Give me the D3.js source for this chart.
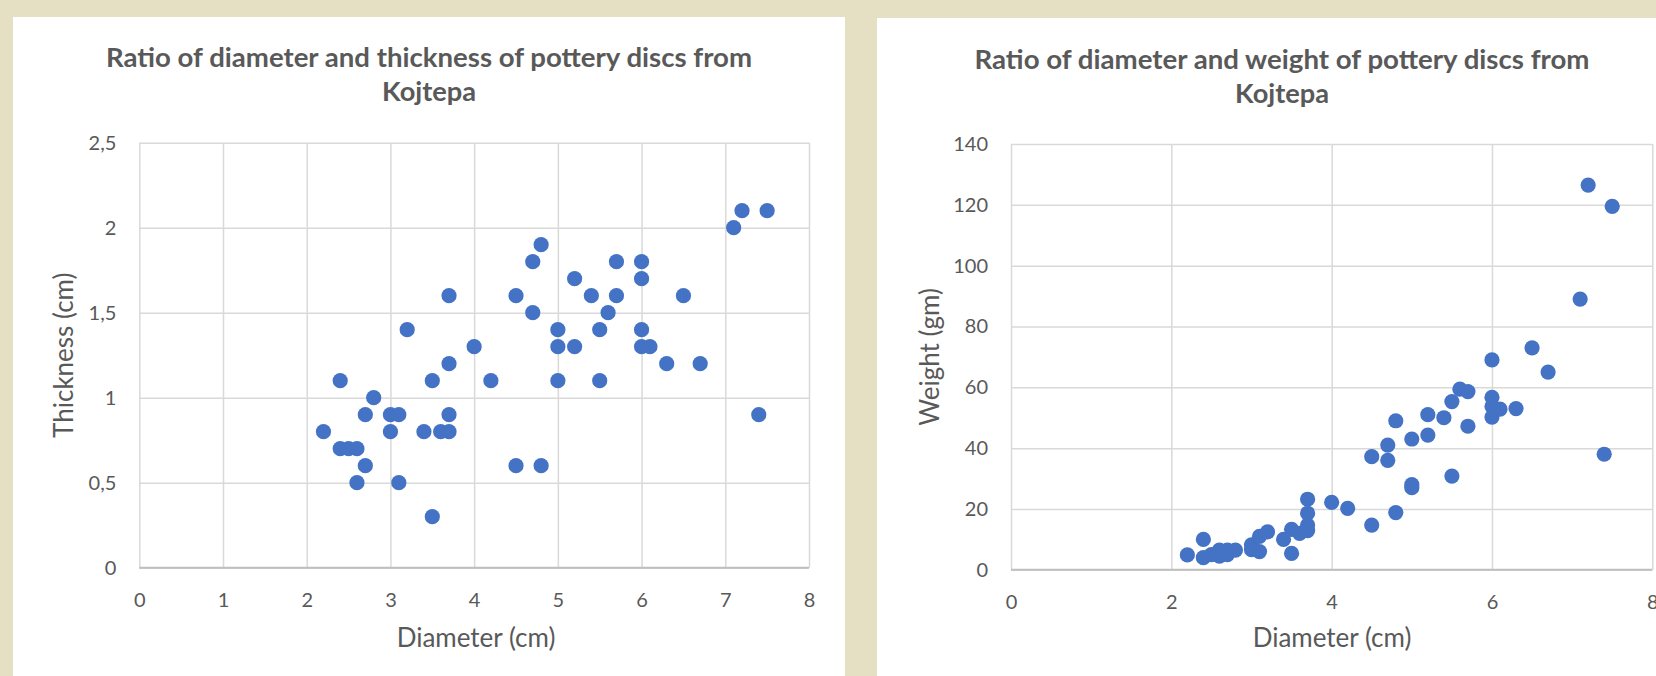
<!DOCTYPE html>
<html>
<head>
<meta charset="utf-8">
<script src="https://cdn.jsdelivr.net/npm/d3@7"></script>
<style>
  html, body { margin: 0; padding: 0; background: #e5e0c3; }
  svg { display: block; }
  text { font-family: Lato, "Open Sans", sans-serif; fill: #595959; }
</style>
</head>
<body>
<svg id="chart" width="1656" height="676"></svg>
<script>
// ---------- data ----------
const titleA = ["Ratio of diameter and thickness of pottery discs from", "Kojtepa"];
const titleB = ["Ratio of diameter and weight of pottery discs from", "Kojtepa"];
const xLabel = "Diameter (cm)";
const yLabelA = "Thickness (cm)";
const yLabelB = "Weight (gm)";

const xTicksA = [0, 1, 2, 3, 4, 5, 6, 7, 8];
const yTicksA = [0, 0.5, 1, 1.5, 2, 2.5];
const xTicksB = [0, 2, 4, 6, 8];
const yTicksB = [0, 20, 40, 60, 80, 100, 120, 140];

const diameterA = [3.7, 3.2, 3.7, 2.4, 3.5, 2.8, 2.7, 3.0, 3.1, 3.7, 2.2, 3.0, 3.4, 3.6, 3.7,
  2.4, 2.5, 2.6, 2.7, 2.6, 3.1, 3.5, 4.0, 4.2, 4.5, 4.7, 4.8, 4.7, 4.5, 4.8, 5.0, 5.0, 5.0,
  5.2, 5.2, 5.4, 5.5, 5.5, 5.6, 5.7, 5.7, 6.0, 6.0, 6.0, 6.0, 6.1, 6.3, 6.5, 6.7, 7.1, 7.2, 7.5, 7.4];
const thicknessA = [1.6, 1.4, 1.2, 1.1, 1.1, 1.0, 0.9, 0.9, 0.9, 0.9, 0.8, 0.8, 0.8, 0.8, 0.8,
  0.7, 0.7, 0.7, 0.6, 0.5, 0.5, 0.3, 1.3, 1.1, 1.6, 1.8, 1.9, 1.5, 0.6, 0.6, 1.4, 1.3, 1.1,
  1.7, 1.3, 1.6, 1.4, 1.1, 1.5, 1.8, 1.6, 1.8, 1.7, 1.4, 1.3, 1.3, 1.2, 1.6, 1.2, 2.0, 2.1, 2.1, 0.9];

const diameterB = [2.2, 2.4, 2.4, 2.5, 2.6, 2.6, 2.7, 2.7, 2.8, 3.0, 3.0, 3.1, 3.1, 3.2, 3.4,
  3.5, 3.5, 3.6, 3.7, 3.7, 3.7, 3.7, 4.0, 4.2, 4.5, 4.5, 4.7, 4.7, 4.8, 4.8, 5.0, 5.0, 5.0,
  5.2, 5.2, 5.4, 5.5, 5.5, 5.6, 5.7, 5.7, 6.0, 6.0, 6.0, 6.0, 6.1, 6.3, 6.5, 6.7, 7.1, 7.2, 7.5, 7.4];
const weightB = [4.9, 10, 4, 5, 6.5, 4.5, 6.5, 5, 6.5, 8.2, 6.6, 11, 6, 12.5, 10,
  13.3, 5.4, 12, 23.2, 18.6, 14.7, 12.9, 22.2, 20.2, 37.2, 14.7, 41, 36, 49, 18.8, 43, 28, 27,
  51, 44.3, 50, 55.3, 30.8, 59.4, 58.6, 47.2, 69, 56.7, 53.7, 50.2, 52.8, 53, 73, 65, 89, 126.5, 119.5, 38];

// ---------- drawing ----------
const svg = d3.select("#chart");
const GRID = "#d9d9d9", DOT = "#4472c4";
const commaFmt = d3.formatLocale({decimal: ",", thousands: ".", grouping: [3], currency: ["", ""]}).format("~g");

// panels
svg.append("rect").attr("x", 13).attr("y", 17).attr("width", 832).attr("height", 676).attr("fill", "#fff");
svg.append("rect").attr("x", 877).attr("y", 18).attr("width", 800).attr("height", 676).attr("fill", "#fff");

function drawChart(cfg) {
  const g = svg.append("g");
  const x = d3.scaleLinear().domain([0, 8]).range([cfg.left, cfg.right]);
  const y = d3.scaleLinear().domain([0, cfg.yMax]).range([cfg.bottom, cfg.top]);
  const w = cfg.right - cfg.left, h = cfg.bottom - cfg.top;

  // vertical grid + x tick labels
  const xa = g.append("g").attr("transform", `translate(0,${cfg.bottom})`)
    .call(d3.axisBottom(x).tickValues(cfg.xTicks).tickSizeInner(-h).tickSizeOuter(0).tickPadding(25).tickFormat(d3.format("d")));
  xa.select(".domain").remove();
  xa.selectAll("line").attr("stroke", GRID).attr("stroke-width", 1.5);
  xa.selectAll("text").attr("font-size", 20).style("fill", "#595959");

  // horizontal grid + y tick labels
  const ya = g.append("g").attr("transform", `translate(${cfg.left},0)`)
    .call(d3.axisLeft(y).tickValues(cfg.yTicks).tickSizeInner(-w).tickSizeOuter(0).tickPadding(23).tickFormat(cfg.yFmt));
  ya.select(".domain").remove();
  ya.selectAll("line").attr("stroke", GRID).attr("stroke-width", 1.5);
  ya.selectAll("text").attr("font-size", 20).style("fill", "#595959");

  // x axis line
  g.append("line").attr("x1", cfg.left).attr("x2", cfg.right).attr("y1", cfg.bottom).attr("y2", cfg.bottom)
    .attr("stroke", "#bfbfbf").attr("stroke-width", 2);

  // points
  g.append("g").selectAll("circle").data(cfg.xs.map((d, i) => [d, cfg.ys[i]])).join("circle")
    .attr("cx", d => x(d[0])).attr("cy", d => y(d[1])).attr("r", 7.6).attr("fill", DOT);

  // titles
  const t = g.append("text").attr("text-anchor", "middle").attr("font-weight", "bold").attr("font-size", 27);
  t.append("tspan").attr("x", cfg.titleX).attr("y", cfg.titleY).text(cfg.title[0])
    .attr("textLength", cfg.titleW).attr("lengthAdjust", "spacingAndGlyphs");
  t.append("tspan").attr("x", cfg.titleX).attr("y", cfg.titleY + 34).text(cfg.title[1])
    .attr("textLength", 94).attr("lengthAdjust", "spacingAndGlyphs");

  // axis titles
  g.append("text").attr("x", cfg.xTitleX).attr("y", 647).attr("text-anchor", "middle").attr("font-size", 26).text(xLabel);
  g.append("text").attr("transform", `translate(${cfg.yTitleX},${(cfg.top + cfg.bottom) / 2}) rotate(-90)`)
    .attr("text-anchor", "middle").attr("dy", "0.35em").attr("font-size", 26).text(cfg.yLabel);
}

drawChart({
  left: 139.3, right: 809, top: 142.7, bottom: 567.7, yMax: 2.5,
  xTicks: xTicksA, yTicks: yTicksA, yFmt: commaFmt,
  xs: diameterA, ys: thicknessA, title: titleA, titleX: 429, titleY: 67, titleW: 646,
  xTitleX: 476, yTitleX: 64, yLabel: yLabelA
});
drawChart({
  left: 1011, right: 1652.3, top: 144, bottom: 569.8, yMax: 140,
  xTicks: xTicksB, yTicks: yTicksB, yFmt: d3.format("d"),
  xs: diameterB, ys: weightB, title: titleB, titleX: 1282, titleY: 69, titleW: 615,
  xTitleX: 1332, yTitleX: 930, yLabel: yLabelB
});
</script>
</body>
</html>
